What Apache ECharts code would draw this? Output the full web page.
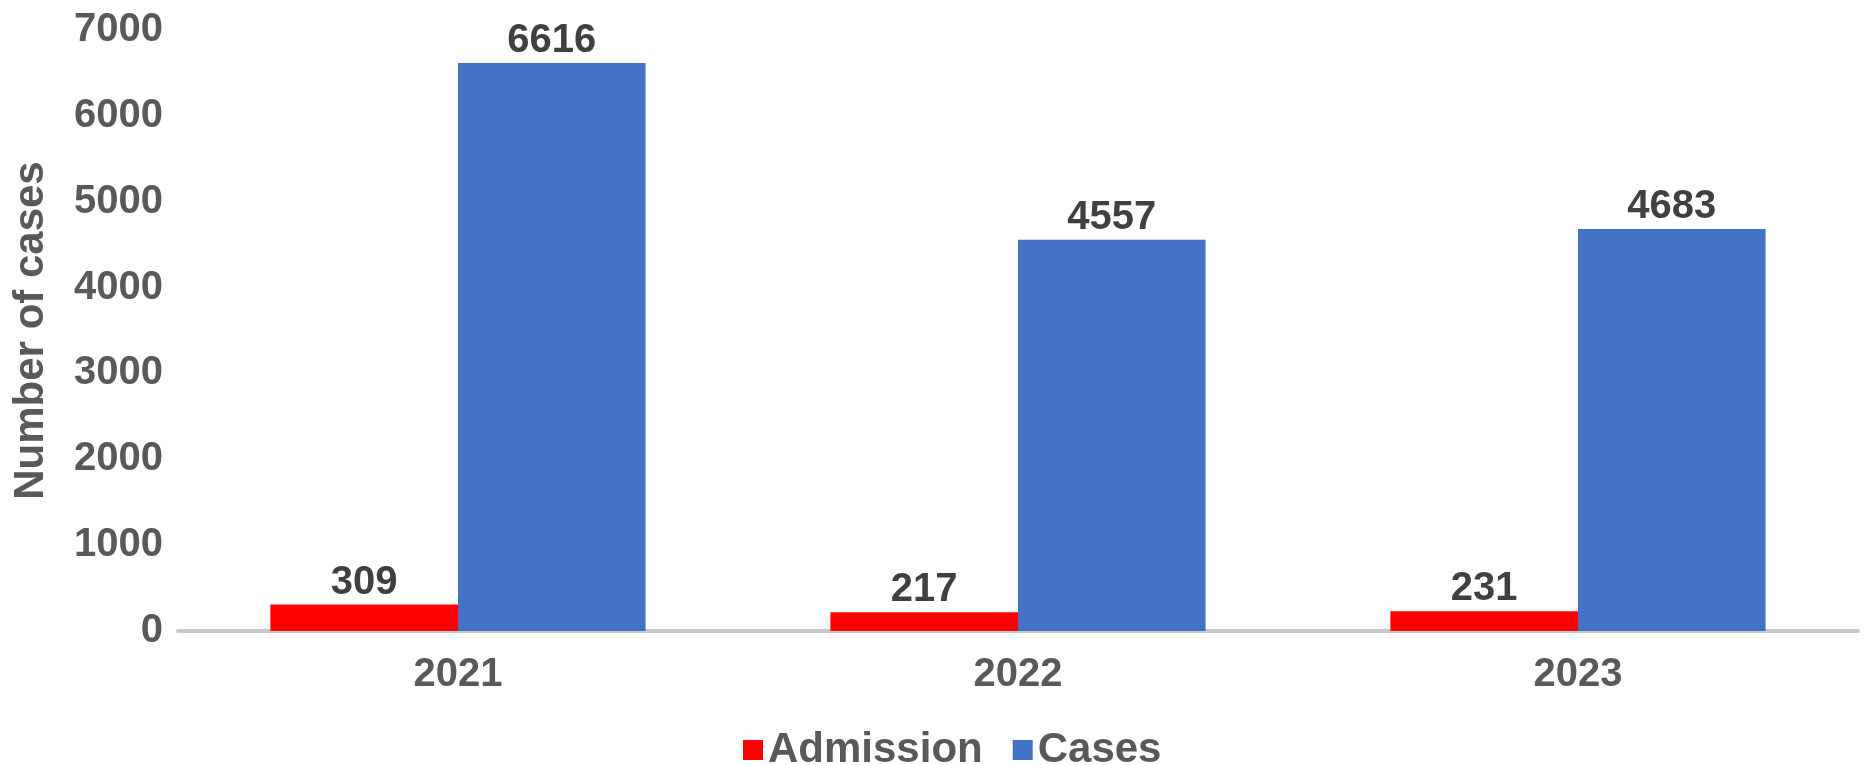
<!DOCTYPE html>
<html>
<head>
<meta charset="utf-8">
<script src="https://cdn.jsdelivr.net/npm/echarts@6/dist/echarts.min.js"></script>
<style>
html,body{margin:0;padding:0;background:#fff;}
#c{width:1866px;height:765px;}
</style>
</head>
<body>
<div id="c"></div>
<script>
const categories = ['2021', '2022', '2023'];
const admission = [309, 217, 231];
const cases = [6616, 4557, 4683];
const seriesNames = ['Admission', 'Cases'];
const yAxisTitle = 'Number of cases';

const FONT = '"Liberation Sans", Arial, sans-serif';
const chart = echarts.init(document.getElementById('c'), null, {renderer: 'canvas'});
const labelStyle = {
  show: true, position: 'top', distance: 2,
  color: '#404040', fontFamily: FONT, fontWeight: 'bold', fontSize: 40
};
chart.setOption({
  animation: false,
  backgroundColor: '#ffffff',
  grid: {left: 178, right: 8, top: 30, bottom: 134, containLabel: false},
  legend: {
    data: seriesNames,
    left: 738, top: 724,
    itemWidth: 20, itemHeight: 20, itemGap: 30,
    icon: 'rect',
    textStyle: {color: '#595959', fontFamily: FONT, fontWeight: 'bold', fontSize: 42}
  },
  xAxis: {
    type: 'category',
    data: categories,
    axisLine: {show: true, lineStyle: {color: '#C8C8C8', width: 4}},
    axisTick: {show: false},
    axisLabel: {color: '#595959', fontFamily: FONT, fontWeight: 'bold', fontSize: 40, margin: 24},
    splitLine: {show: false}
  },
  yAxis: {
    type: 'value',
    min: 0, max: 7000, interval: 1000,
    name: yAxisTitle,
    nameLocation: 'middle',
    nameGap: 126,
    nameTextStyle: {color: '#595959', fontFamily: FONT, fontWeight: 'bold', fontSize: 42},
    axisLine: {show: false},
    axisTick: {show: false},
    splitLine: {show: false},
    axisLabel: {color: '#595959', fontFamily: FONT, fontWeight: 'bold', fontSize: 40, margin: 15,
      formatter: function (v) { return String(v); }}
  },
  series: [
    {name: seriesNames[0], type: 'bar', data: admission, barGap: '0%', barCategoryGap: '33%',
     itemStyle: {color: '#FF0000'}, label: labelStyle},
    {name: seriesNames[1], type: 'bar', data: cases, barGap: '0%', barCategoryGap: '33%',
     itemStyle: {color: '#4472C4'}, label: labelStyle}
  ]
});
</script>
</body>
</html>
